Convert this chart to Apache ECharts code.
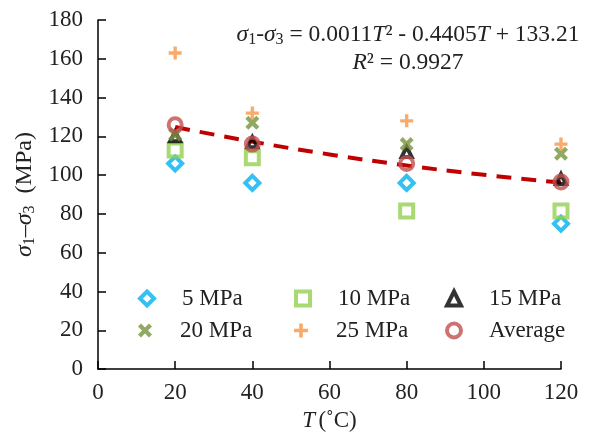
<!DOCTYPE html>
<html>
<head>
<meta charset="utf-8">
<script src="https://cdn.jsdelivr.net/npm/echarts@6/dist/echarts.min.js"></script>
<style>html,body{margin:0;padding:0;background:#fff}#c{width:590px;height:437px}</style>
</head>
<body>
<div id="c"></div>
<script>
const temps = [20, 40, 80, 120];
const mpa5 = [106, 96, 96, 75];
const mpa10 = [113, 109, 81.5, 81.5];
const mpa15 = [120, 117, 112, 98];
const mpa20 = [121, 127, 116, 111];
const mpa25 = [163, 132, 128, 116];
const average = [126, 116, 106, 96.5];
const trendT = [20, 40, 60, 80, 100, 120];
const trendV = [124.8, 117.3, 110.7, 105.0, 100.2, 96.2];
const xTicks = [0, 20, 40, 60, 80, 100, 120];
const yTicks = [0, 20, 40, 60, 80, 100, 120, 140, 160, 180];
const seriesNames = ['5 MPa', '10 MPa', '15 MPa', '20 MPa', '25 MPa', 'Average'];

const FONT = '"Liberation Serif", "Times New Roman", serif';
const FS = 23;
const pair = (xs, ys) => xs.map((x, i) => [x, ys[i]]);
const plusPath = 'path://M3.7,0H6.3V3.7H10V6.3H6.3V10H3.7V6.3H0V3.7H3.7Z';
const xPath = 'path://M7.6,0.4L9.6,2.4L7,5L9.6,7.6L7.6,9.6L5,7L2.4,9.6L0.4,7.6L3,5L0.4,2.4L2.4,0.4L5,3Z';

function hollow(name, data, symbol, size, color, bw) {
  return {
    name, type: 'scatter', data, symbol, symbolSize: size,
    itemStyle: { color: 'rgba(255,255,255,0)', borderColor: color, borderWidth: bw },
    z: 3
  };
}
function solid(name, data, symbol, size, color) {
  return { name, type: 'scatter', data, symbol, symbolSize: size, itemStyle: { color }, z: 3 };
}

const series = [
  {
    name: 'trend', type: 'line', smooth: true, symbol: 'none',
    data: pair(trendT, trendV),
    lineStyle: { color: '#C00000', width: 4, type: [15, 10] }, z: 2
  },
  hollow(seriesNames[0], pair(temps, mpa5), 'diamond', [14, 14], '#00B0F0', 4),
  hollow(seriesNames[1], pair(temps, mpa10), 'rect', [13, 13], '#92D050', 4),
  hollow(seriesNames[2], pair(temps, mpa15), 'triangle', [10, 10], '#000000', 4),
  solid(seriesNames[3], pair(temps, mpa20), xPath, [14, 14], '#77933C'),
  solid(seriesNames[4], pair(temps, mpa25), plusPath, [13, 13], '#F79646'),
  hollow(seriesNames[5], pair(temps, average), 'circle', [13, 13], '#C0504D', 4)
];

const hollowIdx = [0, 1, 2, 5];
const legPos = [[138, 287], [294, 287], [445, 287], [138, 319], [294, 319], [445, 319]];
const legends = seriesNames.map((n, i) => ({
  data: [hollowIdx.includes(i) ? { name: n, itemStyle: { borderWidth: 4 } } : { name: n }],
  left: legPos[i][0], top: legPos[i][1], orient: 'horizontal',
  itemWidth: 14, itemHeight: 14, selectedMode: false, padding: 0,
  textStyle: { fontFamily: FONT, fontSize: FS, color: '#222', padding: [0, 0, 0, 23] }
}));

const chart = echarts.init(document.getElementById('c'), null, { renderer: 'canvas' });
chart.setOption({
  animation: false,
  backgroundColor: '#fff',
  grid: { left: 98, right: 29, top: 20, bottom: 66, containLabel: false },
  legend: legends,
  xAxis: {
    type: 'value', min: xTicks[0], max: xTicks[xTicks.length - 1], interval: 20,
    axisLine: { show: true, lineStyle: { color: '#000', width: 1.5 } },
    axisTick: { show: true, inside: true, length: 8, lineStyle: { color: '#000', width: 1.5 } },
    splitLine: { show: false },
    axisLabel: { fontFamily: FONT, fontSize: FS, color: '#222', margin: 12 },
    name: '{i|T} {n|(˚C)}', nameLocation: 'middle', nameGap: 36,
    nameTextStyle: {
      rich: {
        i: { fontFamily: FONT, fontSize: FS, fontStyle: 'italic', color: '#222' },
        n: { fontFamily: FONT, fontSize: FS, color: '#222' }
      }
    }
  },
  yAxis: {
    type: 'value', min: yTicks[0], max: yTicks[yTicks.length - 1], interval: 20,
    axisLine: { show: true, lineStyle: { color: '#000', width: 1.5 } },
    axisTick: { show: true, inside: true, length: 8, lineStyle: { color: '#000', width: 1.5 } },
    splitLine: { show: false },
    axisLabel: { fontFamily: FONT, fontSize: FS, color: '#222', margin: 15 },
    name: '{s|σ}{b|1}{n|–}{s|σ}{b|3}{n|  (MPa)}', nameLocation: 'middle', nameGap: 58, nameRotate: 90,
    nameTextStyle: {
      rich: {
        s: { fontFamily: FONT, fontSize: 24, fontStyle: 'italic', color: '#222', lineHeight: 26 },
        b: { fontFamily: FONT, fontSize: 16, color: '#222', lineHeight: 16, verticalAlign: 'bottom' },
        n: { fontFamily: FONT, fontSize: 24, color: '#222', lineHeight: 26 }
      }
    }
  },
  graphic: [
    {
      type: 'text', x: 408, y: 35,
      style: {
        align: 'center', verticalAlign: 'middle',
        text: '{s|σ}{b|1}{n|-}{s|σ}{b|3}{n| = 0.0011}{s|T}{n|² - 0.4405}{s|T}{n| + 133.21}',
        rich: {
          s: { fontFamily: FONT, fontSize: 23.5, fontStyle: 'italic', fill: '#222', lineHeight: 26 },
          b: { fontFamily: FONT, fontSize: 16, fill: '#222', lineHeight: 16, verticalAlign: 'bottom' },
          n: { fontFamily: FONT, fontSize: 23.5, fill: '#222', lineHeight: 26 }
        }
      }
    },
    {
      type: 'text', x: 408, y: 63,
      style: {
        align: 'center', verticalAlign: 'middle',
        text: '{s|R}{n|² = 0.9927}',
        rich: {
          s: { fontFamily: FONT, fontSize: 23.5, fontStyle: 'italic', fill: '#222', lineHeight: 26 },
          n: { fontFamily: FONT, fontSize: 23.5, fill: '#222', lineHeight: 26 }
        }
      }
    }
  ],
  series
});
</script>
</body>
</html>
